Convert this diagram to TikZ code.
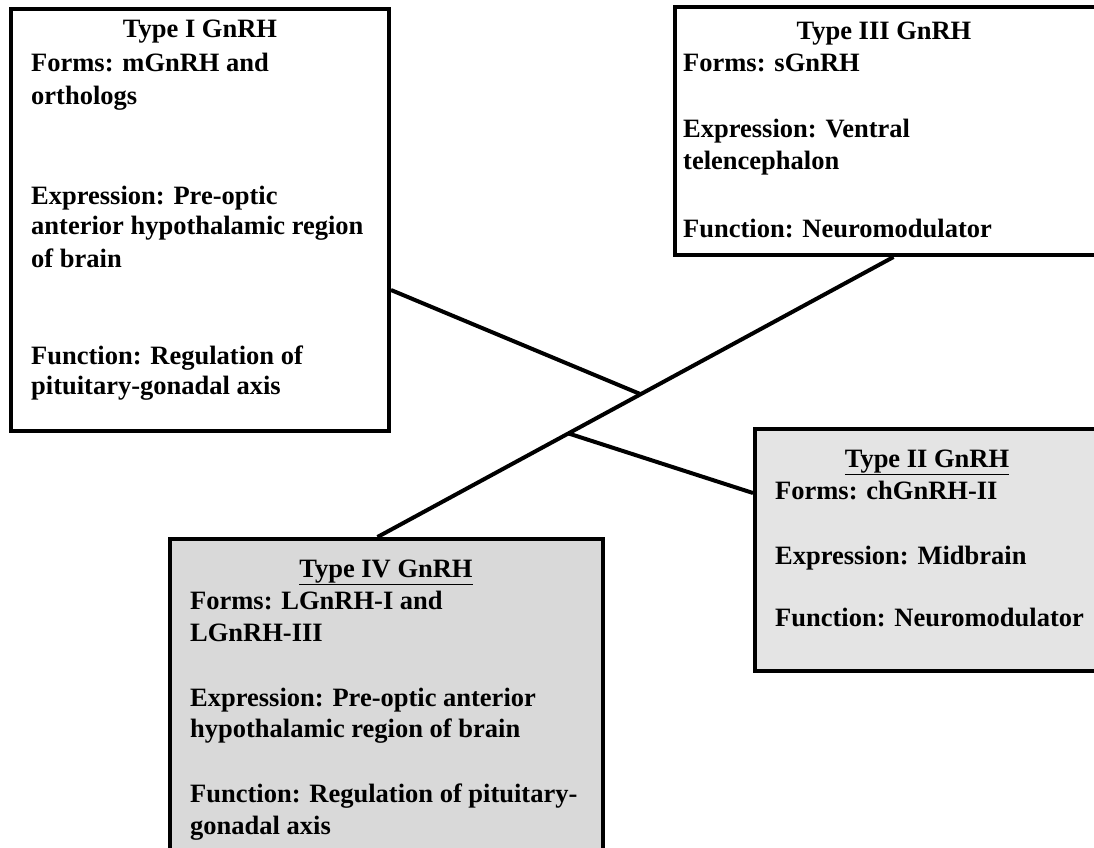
\documentclass[tikz,border=0pt]{standalone}
\usepackage{fontspec}
\setmainfont{Liberation Serif}
\usetikzlibrary{calc}
\begin{document}
\begin{tikzpicture}[x=1pt,y=-1pt,
  boxstyle/.style={draw=black, line width=4pt, rectangle, inner sep=0pt},
  plainbox/.style={boxstyle, fill=white},
  lightbox/.style={boxstyle, fill=gray!21},
  darkbox/.style={boxstyle, fill=gray!30},
  txt/.style={anchor=base west, inner sep=0pt, font=\fontsize{26.5}{31}\selectfont\bfseries},
  ttl/.style={anchor=base, inner sep=0pt, font=\fontsize{26.5}{31}\selectfont\bfseries},
  link/.style={draw=black, line width=4pt}]
\fill[white] (0,0) rectangle (1094,847);
\useasboundingbox (0,0) rectangle (1094,847);
\clip (0,0) rectangle (1094,847);
% boxes
\node[plainbox, minimum width=378pt, minimum height=422pt] (b1) at (200,220) {};
\node[plainbox, minimum width=421pt, minimum height=248pt] (b3) at (885.5,131) {};
\node[lightbox, minimum width=346pt, minimum height=242pt] (b2) at (928,550) {};
\node[darkbox, minimum width=433pt, minimum height=331pt] (b4) at (386.5,704.5) {};
% connectors
\draw[link] ([xshift=-9pt]b4.north) -- ([xshift=8pt]b3.south)
  coordinate[pos=0.51] (j1) coordinate[pos=0.37] (j2);
\draw[link] ([yshift=-70pt]b1.east) -- (j1);
\draw[link] (j2) -- ([yshift=57pt]b2.west);
% Type I
\node[ttl] (t1) at (200,37) {Type I GnRH};
\node[txt] (t1a) at (31,71) {Forms: mGnRH and};
\node[txt] (t1b) at (31,104) {orthologs};
\node[txt] (t1c) at (31,204) {Expression: Pre-optic};
\node[txt] (t1d) at (31,234) {anterior hypothalamic region};
\node[txt] (t1e) at (31,267) {of brain};
\node[txt] (t1f) at (31,364) {Function: Regulation of};
\node[txt] (t1g) at (31,394) {pituitary-gonadal axis};
% Type III
\node[ttl] (t3) at (884,39) {Type III GnRH};
\node[txt] (t3a) at (683,71) {Forms: sGnRH};
\node[txt] (t3b) at (683,137) {Expression: Ventral};
\node[txt] (t3c) at (683,169) {telencephalon};
\node[txt] (t3d) at (683,237) {Function: Neuromodulator};
% Type II
\node[ttl] (t2) at (927,467) {\underline{Type II GnRH}};
\node[txt] (t2a) at (775,499) {Forms: chGnRH-II};
\node[txt] (t2b) at (775,564) {Expression: Midbrain};
\node[txt] (t2c) at (775,626) {Function: Neuromodulator};
% Type IV
\node[ttl] (t4) at (386,577) {\underline{Type IV GnRH}};
\node[txt] (t4a) at (190,609) {Forms: LGnRH-I and};
\node[txt] (t4b) at (190,641) {LGnRH-III};
\node[txt] (t4c) at (190,706) {Expression: Pre-optic anterior};
\node[txt] (t4d) at (190,737) {hypothalamic region of brain};
\node[txt] (t4e) at (190,802) {Function: Regulation of pituitary-};
\node[txt] (t4f) at (190,834) {gonadal axis};
\end{tikzpicture}
\end{document}
